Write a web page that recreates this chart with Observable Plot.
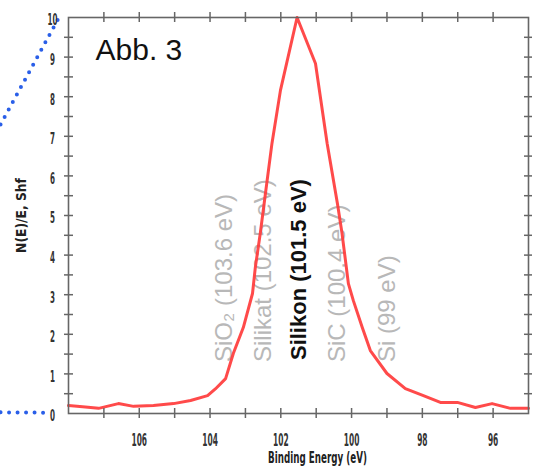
<!DOCTYPE html>
<html><head><meta charset="utf-8">
<script src="https://cdn.jsdelivr.net/npm/d3@7"></script>
<script src="https://cdn.jsdelivr.net/npm/@observablehq/plot@0.6"></script>
<style>body{margin:0;background:#fff}</style>
</head><body><div id="chart"></div>
<script>
// Spectrum (binding energy in eV, intensity N(E)/E)
const energy = [108.0,107.6,107.15,106.59,106.16,105.6,105.03,104.55,104.07,103.85,103.56,103.34,103.06,102.8,102.72,102.58,102.46,102.25,102.01,101.54,101.02,100.69,100.4,100.27,100.09,99.95,99.7,99.47,99.0,98.48,97.97,97.49,97.01,96.5,96.03,95.51,95.0];
const intensity = [0.2,0.17,0.13,0.25,0.18,0.2,0.25,0.33,0.45,0.62,0.88,1.52,2.17,3.03,3.69,4.55,5.38,6.82,8.16,10.0,8.84,6.82,5.3,4.55,3.28,2.85,2.18,1.59,1.01,0.63,0.45,0.28,0.28,0.15,0.25,0.13,0.13];

// Peak annotations
const peakNames = ["SiO₂ (103.6 eV)", "Silikat (102.5 eV)", "Silikon (101.5 eV)", "SiC (100.4 eV)", "Si (99 eV)"];
const peakEnergy = [103.6, 102.5, 101.5, 100.4, 99];
const mainPeak = "Silikon (101.5 eV)";

// Ticks
const xTicks = [96,97,98,99,100,101,102,103,104,105,106,107];
const xLabels = [106,104,102,100,98,96];
const yTicks = [0,1,2,3,4,5,6,7,8,9,10];
const yMinor = [0.5,1,1.5,2,2.5,3,3.5,4,4.5,5,5.5,6,6.5,7,7.5,8,8.5,9,9.5];

// Dotted guide lines leading out of the left edge (data coords)
const guideUpper = [[109.92, 7.3], [108.3, 9.95]];
const guideLower = [[109.92, 0.03], [108.6, 0.02]];

const title = "Abb. 3";
const xTitle = "Binding Energy (eV)";
const yTitle = "N(E)/E, Shf";

const W = 533, H = 471, mL = 68, mR = 5, mT = 17, mB = 58;
const Fw = W - mL - mR, Fh = H - mT - mB;
const axisColor = "#666";
const cond = "DejaVu Sans Condensed, DejaVu Sans, sans-serif";
const sans = "Liberation Sans, Arial, Helvetica, sans-serif";

const spectrum = energy.map((e, i) => ({e, v: intensity[i]}));
const peaks = peakNames.map((name, i) => ({name, e: peakEnergy[i]}));

const chart = Plot.plot({
  width: W, height: H,
  marginLeft: mL, marginRight: mR, marginTop: mT, marginBottom: mB,
  x: {domain: [108, 95], axis: null},
  y: {domain: [0, 10], axis: null},
  marks: [
    Plot.line(guideUpper, {x: d => d[0], y: d => d[1], stroke: "#2a5fe8", strokeWidth: 4, strokeDasharray: "0 8.5", strokeLinecap: "round"}),
    Plot.line(guideLower, {x: d => d[0], y: d => d[1], stroke: "#2a5fe8", strokeWidth: 4, strokeDasharray: "0 8.5", strokeLinecap: "round"}),
    Plot.text(peaks.filter(d => d.name !== mainPeak), {x: "e", y: 1.3, text: "name", rotate: -90, textAnchor: "start", lineAnchor: "middle", fill: "#b8b8b8", fontSize: 24, fontFamily: sans}),
    Plot.text(peaks.filter(d => d.name === mainPeak), {x: "e", y: 1.35, text: "name", rotate: -90, textAnchor: "start", lineAnchor: "middle", fill: "#111", fontWeight: "bold", fontSize: 22, fontFamily: sans}),
    Plot.line(spectrum, {x: "e", y: "v", stroke: "#ff3b3b", strokeWidth: 3, strokeOpacity: 0.92}),
    Plot.frame({stroke: axisColor, strokeWidth: 1.6}),
    Plot.tickX(xTicks, {x: d => d, insetTop: Fh - 5, insetBottom: -5, stroke: axisColor, strokeWidth: 1.5}),
    Plot.tickX(xTicks, {x: d => d, insetTop: -5, insetBottom: Fh - 5, stroke: axisColor, strokeWidth: 1.5}),
    Plot.tickY(yMinor, {y: d => d, insetLeft: -4, insetRight: Fw - 5, stroke: axisColor, strokeWidth: 1.5}),
    Plot.tickY(yMinor, {y: d => d, insetLeft: Fw - 4, insetRight: -4, stroke: axisColor, strokeWidth: 1.5}),
    Plot.text(yTicks, {y: d => d, text: d => String(d), frameAnchor: "left", dx: -16, dy: 3, textAnchor: "middle", fontSize: 15, fontWeight: "bold", fontFamily: cond, fill: "#333"}),
    Plot.text(xLabels, {x: d => d, text: d => String(d), frameAnchor: "bottom", dy: 20, lineAnchor: "top", textAnchor: "middle", fontSize: 17, fontWeight: "bold", fontFamily: cond, fill: "#333"}),
    Plot.text([xTitle], {frameAnchor: "bottom", dx: 19, dy: 38, lineAnchor: "top", textAnchor: "middle", fontSize: 15.5, fontWeight: "bold", fontFamily: cond, fill: "#222"}),
    Plot.text([yTitle], {frameAnchor: "left", dx: -47, rotate: -90, textAnchor: "middle", lineAnchor: "middle", fontSize: 13.5, fontWeight: "bold", fontFamily: cond, fill: "#222"}),
    Plot.text([title], {frameAnchor: "top-left", dx: 27, dy: 21, lineAnchor: "top", textAnchor: "start", fontSize: 30, fontFamily: sans, fill: "#111"})
  ]
});

// Condense the axis texts to mimic the narrow plotter font
const perChar = {"15": 5, "17": 5.2, "15.5": 5.2, "13.5": 6.8};
chart.querySelectorAll("g[font-family]").forEach(g => {
  if (!g.getAttribute("font-family").startsWith("DejaVu Sans Condensed")) return;
  const k = perChar[g.getAttribute("font-size")];
  if (!k) return;
  g.querySelectorAll("text").forEach(t => {
    t.setAttribute("textLength", t.textContent.length * k);
    t.setAttribute("lengthAdjust", "spacingAndGlyphs");
  });
});

document.getElementById("chart").append(chart);
</script>
</body></html>
